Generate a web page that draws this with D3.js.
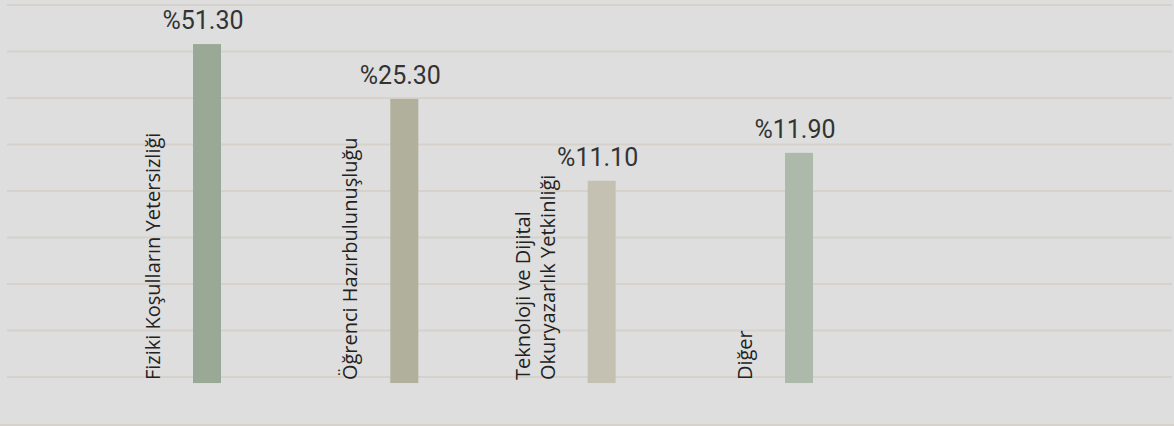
<!DOCTYPE html>
<html>
<head>
<meta charset="utf-8">
<script src="https://cdn.jsdelivr.net/npm/d3@7/dist/d3.min.js"></script>
<style>
  html, body { margin: 0; padding: 0; background: #dedede; }
  svg { display: block; }
</style>
</head>
<body>
<svg id="chart" width="1174" height="426"></svg>
<script>
// ---- data ----
const categories = [
  "Fiziki Koşulların Yetersizliği",
  "Öğrenci Hazırbulunuşluğu",
  "Teknoloji ve Dijital\nOkuryazarlık Yetkinliği",
  "Diğer"
];
const shares = [51.3, 25.3, 11.1, 11.9];          // printed percentage labels
const barLevels = [7.16, 5.98, 4.22, 4.82];         // bar heights (grid units)
const gridTicks = [0, 1, 2, 3, 4, 5, 6, 7, 8];
const barColors = ["#9aa995", "#b1b09c", "#c4c1b3", "#adb9ab"];

// ---- layout ----
const W = 1174, H = 426;
const svg = d3.select("#chart");

svg.append("rect").attr("width", W).attr("height", H).attr("fill", "#dedede");

const y = d3.scaleLinear().domain([0, 8]).range([377, 5]);
const baseLevel = -0.13;
const x = d3.scalePoint().domain(categories).range([207, 799]);
const barW = 28;

// gridlines
svg.append("g")
  .selectAll("line")
  .data(gridTicks)
  .join("line")
  .attr("x1", 7).attr("x2", 1172)
  .attr("y1", d => y(d)).attr("y2", d => y(d))
  .attr("stroke", "#d6d2cb")
  .attr("stroke-width", 2.2);

// bottom border line
svg.append("line")
  .attr("x1", 0).attr("x2", W)
  .attr("y1", H - 1).attr("y2", H - 1)
  .attr("stroke", "#d6d2cb").attr("stroke-width", 2);

const data = categories.map((c, i) => ({ c, share: shares[i], level: barLevels[i], color: barColors[i] }));

// bars
svg.append("g")
  .selectAll("rect")
  .data(data)
  .join("rect")
  .attr("x", d => x(d.c) - barW / 2)
  .attr("width", barW)
  .attr("y", d => y(d.level))
  .attr("height", d => y(baseLevel) - y(d.level))
  .attr("fill", d => d.color);

// value labels
svg.append("g")
  .selectAll("text")
  .data(data)
  .join("text")
  .attr("x", d => x(d.c) - 4)
  .attr("y", d => y(d.level) - 15)
  .attr("text-anchor", "middle")
  .attr("font-family", "Roboto, 'DejaVu Sans', sans-serif")
  .attr("font-size", 25)
  .attr("fill", "#333333")
  .text(d => "%" + d3.format(".2f")(d.share));

// category labels (rotated)
const catG = svg.append("g")
  .selectAll("g")
  .data(data)
  .join("g")
  .attr("transform", d => `translate(${x(d.c) - barW / 2 - 33},${y(baseLevel) - 3}) rotate(-90)`);

catG.each(function(d) {
  const lines = d.c.split("\n");
  const t = d3.select(this).append("text")
    .attr("text-anchor", "start")
    .attr("font-family", "'Open Sans', 'Noto Sans', sans-serif")
    .attr("font-size", 20)
    .attr("fill", "#222222");
  lines.forEach((ln, k) => {
    t.append("tspan")
      .attr("x", 0)
      .attr("y", -(lines.length - 1 - k) * 25)
      .text(ln);
  });
});
</script>
</body>
</html>
